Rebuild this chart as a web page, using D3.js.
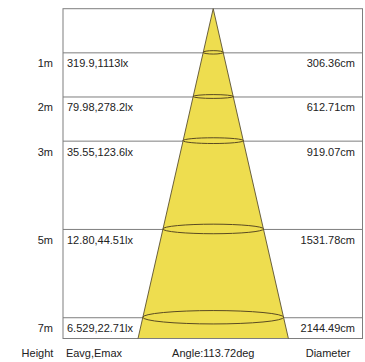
<!DOCTYPE html>
<html><head><meta charset="utf-8">
<script src="https://cdn.jsdelivr.net/npm/d3@7"></script>
<style>body{margin:0;background:#fff}svg{display:block}</style>
</head><body>
<script>
const heights = [1, 2, 3, 5, 7];
const heightLabels = ["1m", "2m", "3m", "5m", "7m"];
const illuminance = ["319.9,1113lx", "79.98,278.2lx", "35.55,123.6lx", "12.80,44.51lx", "6.529,22.71lx"];
const diameters = ["306.36cm", "612.71cm", "919.07cm", "1531.78cm", "2144.49cm"];
const footer = ["Height", "Eavg,Emax", "Angle:113.72deg", "Diameter"];
const maxHeight = 7.47;

const W = 365, H = 362;
const svg = d3.select("body").append("svg").attr("width", W).attr("height", H);

const y = d3.scaleLinear().domain([0, maxHeight]).range([8.7, 338.5]);
const left = 63, right = 362.5, cx = 213.2;
const slope = 0.228; // half-width per px of depth (drawing schematic)
const halfW = h => (y(h) - y(0)) * slope;
const gridColor = "#7e7e7e";

// grid lines (behind cone)
svg.selectAll("line.row").data(heights).join("line")
  .attr("x1", left).attr("x2", right)
  .attr("y1", d => y(d)).attr("y2", d => y(d))
  .attr("stroke", gridColor).attr("stroke-width", 1);

// cone
svg.append("path")
  .attr("d", d3.line()([[cx, y(0)], [cx - halfW(maxHeight), y(maxHeight)], [cx + halfW(maxHeight), y(maxHeight)]]) + "Z")
  .attr("fill", "#eedd4f").attr("stroke", "none");

// frame
svg.append("rect").attr("x", left).attr("y", y(0)).attr("width", right - left).attr("height", y(maxHeight) - y(0))
  .attr("fill", "none").attr("stroke", gridColor).attr("stroke-width", 1);

// cone edges
svg.append("path")
  .attr("d", d3.line()([[cx - halfW(maxHeight), y(maxHeight)], [cx, y(0)], [cx + halfW(maxHeight), y(maxHeight)]]))
  .attr("fill", "none").attr("stroke", "#5a5030").attr("stroke-width", 0.9);

// ellipses
svg.selectAll("ellipse").data(heights).join("ellipse")
  .attr("cx", cx).attr("cy", d => y(d) - 0.5)
  .attr("rx", d => halfW(d))
  .attr("ry", d => Math.max(1.7, halfW(d) * 0.095))
  .attr("fill", "none").attr("stroke", "#5a4a22").attr("stroke-width", 1);

const font = "Liberation Sans, Arial, sans-serif";
const txt = "#222";
svg.selectAll("text.h").data(heights).join("text")
  .attr("x", 53).attr("y", d => y(d) + 14.5)
  .attr("text-anchor", "end").attr("font-family", font).attr("font-size", 11).attr("fill", txt)
  .text((d, i) => heightLabels[i]);
svg.selectAll("text.e").data(heights).join("text")
  .attr("x", 67).attr("y", d => y(d) + 14.5)
  .attr("font-family", font).attr("font-size", 11).attr("fill", txt)
  .text((d, i) => illuminance[i]);
svg.selectAll("text.d").data(heights).join("text")
  .attr("x", 355).attr("y", d => y(d) + 14.5)
  .attr("text-anchor", "end").attr("font-family", font).attr("font-size", 11).attr("fill", txt)
  .text((d, i) => diameters[i]);

const footerX = [37.5, 94, 213.3, 328];
svg.selectAll("text.f").data(footer).join("text")
  .attr("x", (d, i) => footerX[i]).attr("y", 357)
  .attr("text-anchor", "middle").attr("font-family", font).attr("font-size", 11).attr("fill", txt)
  .text(d => d);
</script>
</body></html>
